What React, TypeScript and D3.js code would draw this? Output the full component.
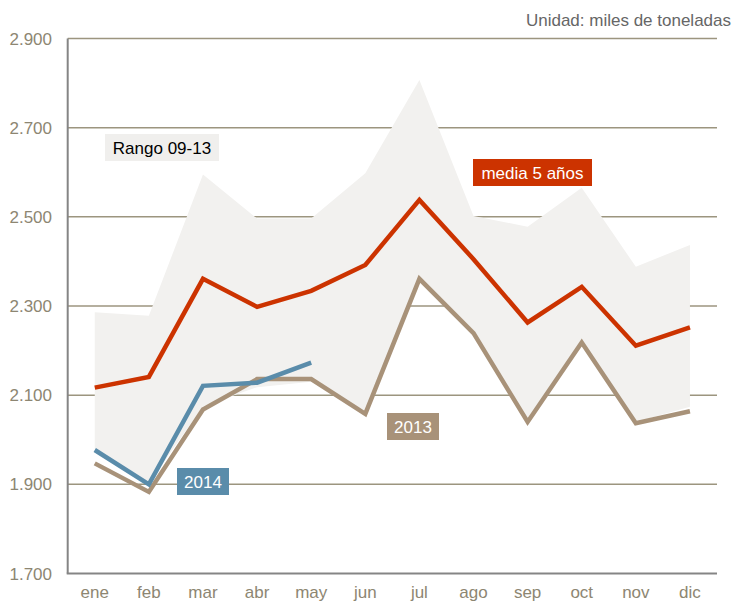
import React from "react";
import * as d3 from "d3";

const months = ["ene", "feb", "mar", "abr", "may", "jun", "jul", "ago", "sep", "oct", "nov", "dic"];
const yTicks = [1700, 1900, 2100, 2300, 2500, 2700, 2900];
const rangeHigh = [2286, 2278, 2595, 2496, 2496, 2598, 2807, 2502, 2478, 2565, 2388, 2437];
const rangeLow = [1980, 1902, 2075, 2118, 2130, 2065, 2361, 2245, 2033, 2215, 2040, 2074];
const media5 = [2117, 2141, 2361, 2298, 2334, 2392, 2538, 2405, 2263, 2343, 2211, 2252];
const y2013 = [1947, 1883, 2068, 2136, 2136, 2058, 2361, 2239, 2040, 2218, 2037, 2064];
const y2014 = [1977, 1900, 2121, 2128, 2173];

const W = 732;
const H = 603;
const FONT = "'Liberation Sans', Arial, sans-serif";

export default function App() {
  const left = 67.7;
  const right = 717;
  const top = 38.5;
  const bottom = 573.5;
  const x = d3.scalePoint<string>().domain(months).range([left, right]).padding(0.5);
  const y = d3.scaleLinear().domain([1700, 2900]).range([bottom, top]);

  const area = d3
    .area<number>()
    .x((_, i) => x(months[i]) as number)
    .y0((_, i) => y(rangeLow[i]))
    .y1((d) => y(d));
  const line = d3
    .line<number>()
    .x((_, i) => x(months[i]) as number)
    .y((d) => y(d));

  const tickColor = "#8d8672";
  const gridColor = "#9c957f";

  const label = (
    text: string,
    bx: number,
    by: number,
    bw: number,
    fill: string,
    color: string
  ) => (
    <g>
      <rect x={bx} y={by} width={bw} height={27} fill={fill} />
      <text
        x={bx + bw / 2}
        y={by + 19.5}
        textAnchor="middle"
        fontSize={17}
        fontFamily={FONT}
        fill={color}
      >
        {text}
      </text>
    </g>
  );

  return (
    <svg
      width={W}
      height={H}
      style={{ position: "absolute", left: 0, top: 0, background: "#fff" }}
    >
      {yTicks.map((t) => (
        <g key={t}>
          {t > 1700 && (
            <line x1={left} x2={right} y1={y(t)} y2={y(t)} stroke={gridColor} strokeWidth={1.5} />
          )}
          <text
            x={52}
            y={y(t) + 6}
            textAnchor="end"
            fontSize={17}
            fontFamily={FONT}
            fill={tickColor}
          >
            {d3.format(".3f")(t / 1000)}
          </text>
        </g>
      ))}
      <path d={area(rangeHigh) || ""} fill="#f2f1ef" />
      <line x1={left} x2={left} y1={top} y2={bottom} stroke="#858585" strokeWidth={2} />
      <line x1={left - 1} x2={right} y1={bottom} y2={bottom} stroke="#858585" strokeWidth={2} />
      {months.map((m) => (
        <text
          key={m}
          x={x(m)}
          y={598}
          textAnchor="middle"
          fontSize={17}
          fontFamily={FONT}
          fill={tickColor}
        >
          {m}
        </text>
      ))}
      <path d={line(y2013) || ""} fill="none" stroke="#a89279" strokeWidth={4.5} strokeLinejoin="miter" />
      <path d={line(media5) || ""} fill="none" stroke="#cc3300" strokeWidth={4.5} strokeLinejoin="miter" />
      <path d={line(y2014) || ""} fill="none" stroke="#5a8caa" strokeWidth={4.5} strokeLinejoin="miter" />
      {label("Rango 09-13", 105, 134, 114, "#f0efed", "#000")}
      {label("media 5 años", 473, 159, 119, "#cc3300", "#fff")}
      {label("2014", 177, 468, 52, "#5a8caa", "#fff")}
      {label("2013", 387, 413, 52, "#a89279", "#fff")}
      <text x={731} y={26} textAnchor="end" fontSize={17} fontFamily={FONT} fill="#666">
        Unidad: miles de toneladas
      </text>
    </svg>
  );
}
